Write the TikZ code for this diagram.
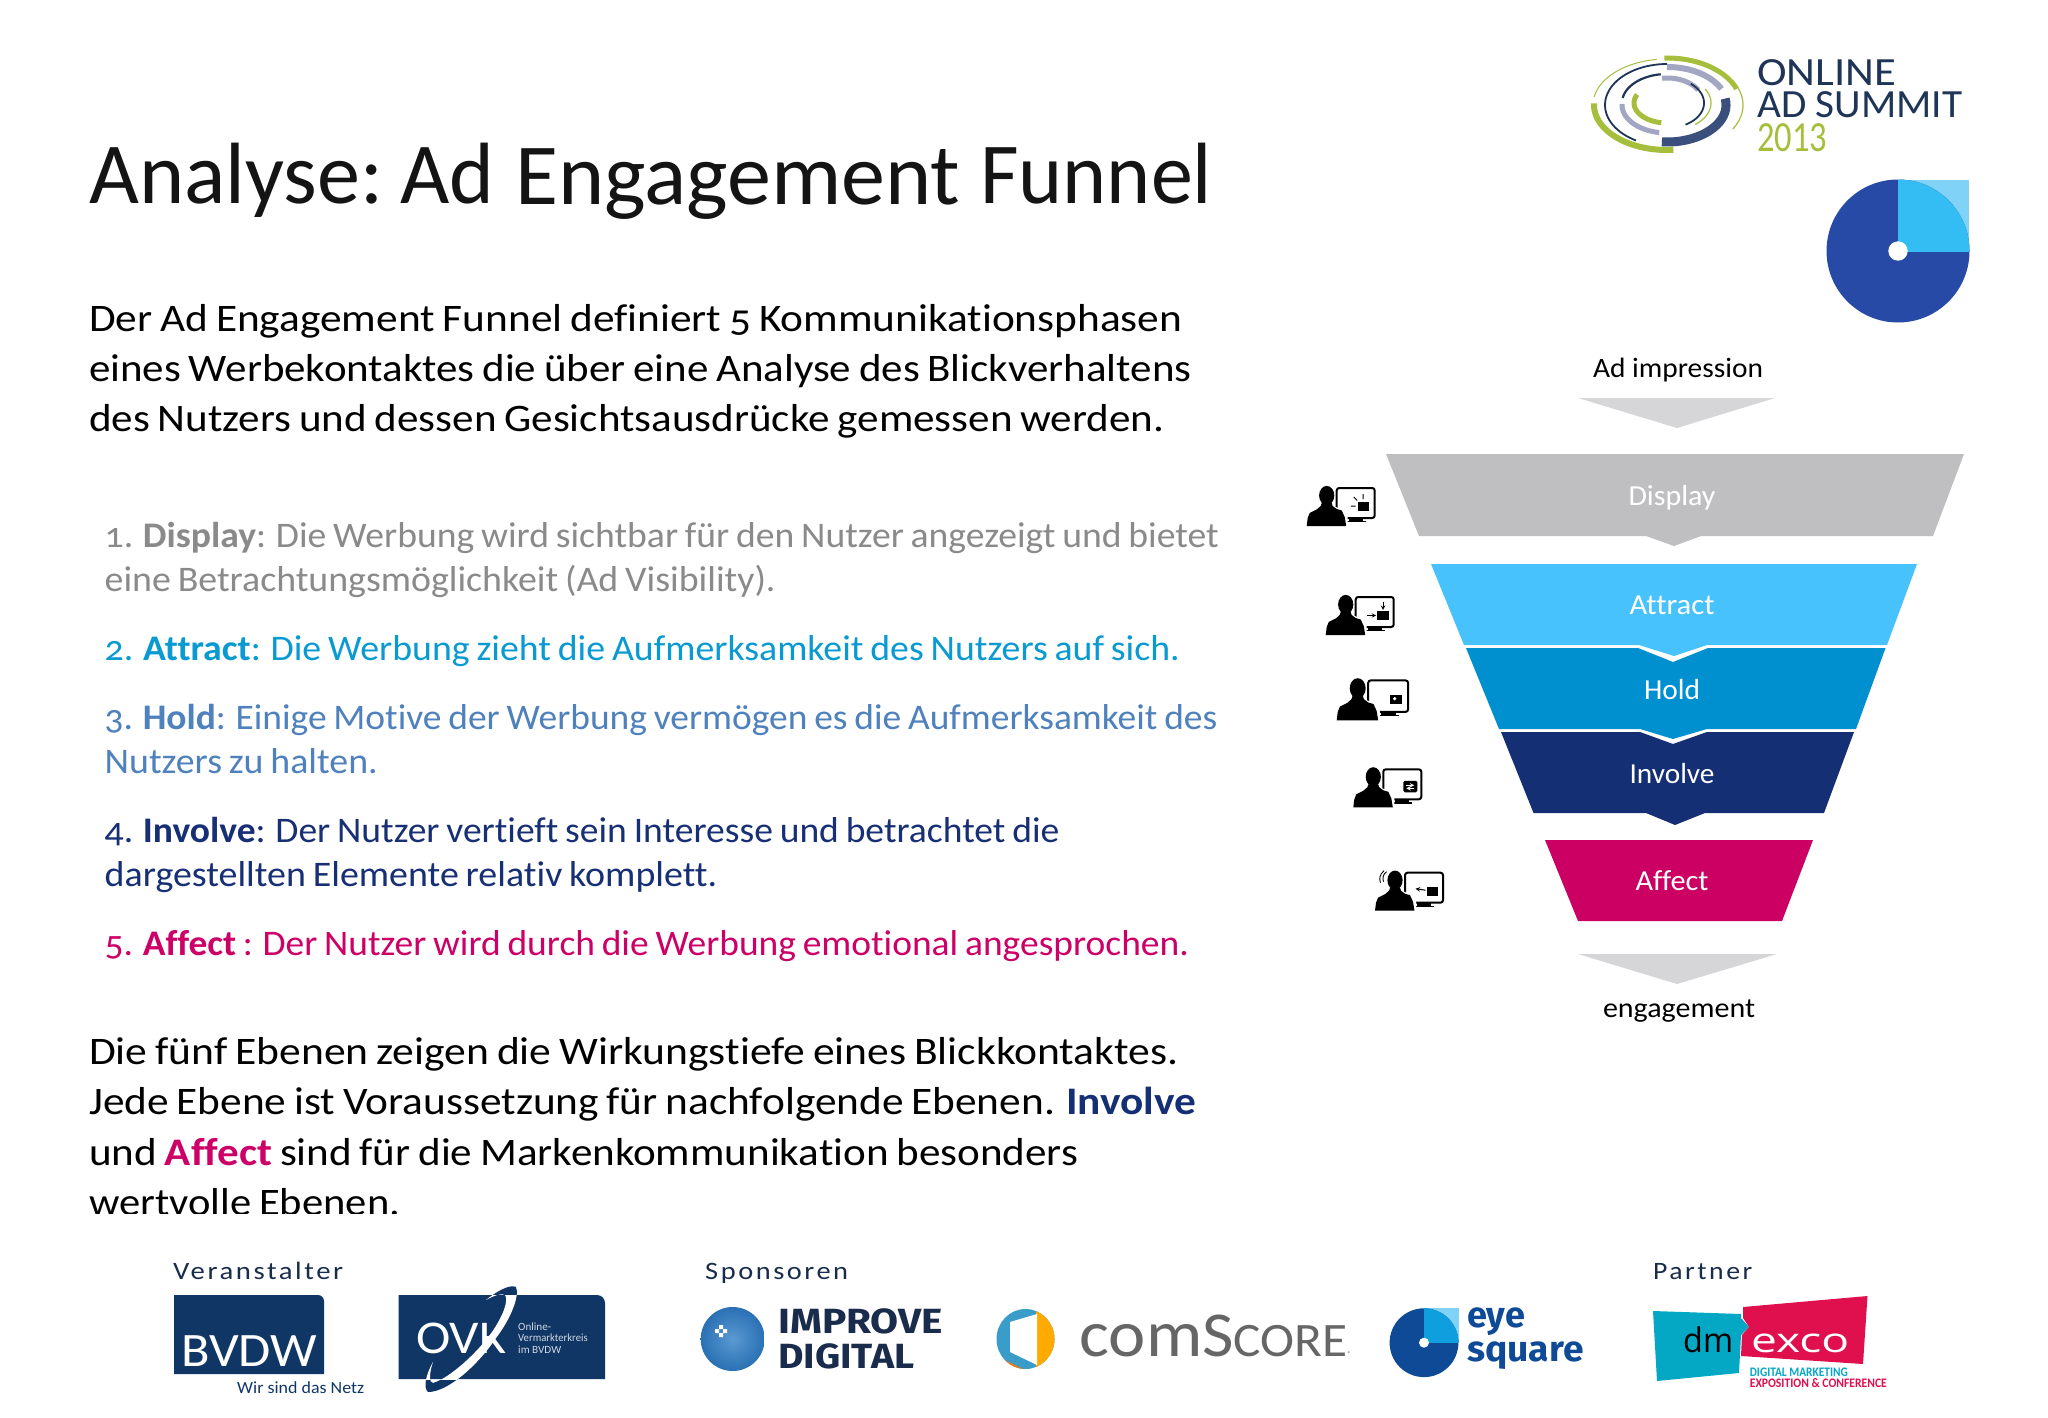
\documentclass[tikz,border=0pt]{standalone}
\usepackage{fontspec}
\usepackage{graphicx}
\setmainfont[Numbers=OldStyle,Ligatures=NoCommon,WordSpace=0.8]{Carlito}
\newfontfamily\lineal[Ligatures=NoCommon]{Carlito}
\newfontfamily\spaced[LetterSpace=9]{Carlito}
\newfontfamily\heavy{Fira Sans}
\newfontfamily\plainsans{Open Sans}
\definecolor{cGrey}{HTML}{8A8A8A}
\definecolor{cAttract}{HTML}{0A9AD2}
\definecolor{cHold}{HTML}{4F81BD}
\definecolor{cInvolve}{HTML}{172F74}
\definecolor{cAffect}{HTML}{CC0066}
\definecolor{fDisplay}{HTML}{BFBEC0}
\definecolor{fAttract}{HTML}{48C2FC}
\definecolor{fHold}{HTML}{0090D0}
\definecolor{fInvolve}{HTML}{142F74}
\definecolor{fAffect}{HTML}{CB0062}
\definecolor{fChev}{HTML}{D6D6D9}
\definecolor{pieDark}{HTML}{264AA5}
\definecolor{pieMid}{HTML}{33BDF2}
\definecolor{pieLight}{HTML}{80D3F7}
\definecolor{navyBox}{HTML}{103666}
\definecolor{logoText}{HTML}{1A2C4C}
\definecolor{sumGreen}{HTML}{A5BF3C}
\definecolor{sumNavy}{HTML}{1E3557}
\definecolor{sumGrey}{HTML}{A2A6C2}
\definecolor{sumBlue}{HTML}{3A4F7C}
\definecolor{esDark}{HTML}{0E4A96}
\definecolor{esMid}{HTML}{109FDE}
\definecolor{dmTeal}{HTML}{05A8C4}
\definecolor{dmPink}{HTML}{E0104F}
\definecolor{csYellow}{HTML}{FFAA00}
\definecolor{csBlue}{HTML}{3A9CC8}
\definecolor{csOrange}{HTML}{F07A12}
\definecolor{impIn}{HTML}{5A9AD2}
\definecolor{impOut}{HTML}{2A70B4}
\newcommand\fl[2]{\resizebox{#1pt}{\height}{#2}}
\newcommand\titleword[3]{\makebox[#1pt][l]{\fl{#2}{#3} }}
\newcommand\earc[7]{\draw[#1,line width=#2pt,line cap=butt] plot[domain=#5:#6,samples=40,smooth] ({1667+#3*cos(\x)},{#7+#4*sin(\x)});}
\newcommand\swooshpath{(486,1300) .. controls (497,1291) and (510,1284) .. (516,1287) .. controls (520,1296) and (510,1320) .. (496,1338) .. controls (478,1365) and (448,1392) .. (428,1392) .. controls (423,1388) and (426,1374) .. (433,1362) .. controls (429,1374) and (429,1383) .. (433,1383) .. controls (450,1378) and (478,1352) .. (492,1332) .. controls (503,1316) and (509,1300) .. (505,1295) .. controls (502,1293) and (495,1295) .. (486,1300) -- cycle}
\tikzset{
  titletext/.style={anchor=base west,inner sep=0,font=\fontsize{87}{87}\selectfont,text=black!92},
  bodytext/.style={anchor=base west,inner sep=0,font=\fontsize{39}{39}\selectfont,text=black},
  listtext/.style={anchor=base west,inner sep=0,font=\fontsize{36}{36}\selectfont},
  flabel/.style={anchor=base,inner sep=0,font=\lineal\fontsize{29}{29}\selectfont,text=white},
  sidelabel/.style={anchor=base,inner sep=0,font=\lineal\fontsize{28}{28}\selectfont,text=black},
  headtext/.style={anchor=base west,inner sep=0,font=\spaced\fontsize{25}{25}\selectfont,text=logoText},
  logotext/.style={anchor=base west,inner sep=0},
  monitor/.style={draw=black,fill=white,line width=2pt,rounded corners=2.5pt},
  personicon/.pic={
    \draw[monitor] (30,-38) rectangle (68,-8);
    \fill[black] (42,-8) rectangle (56,-5);
    \fill[black] (39,-5) rectangle (59,-3.8);
    \fill[white] (-1,1) -- (0,-9) -- (3,-14.5) -- (11,-19) -- (29,-19) -- (37,-16) -- (41,-9) -- (41,1) -- cycle;
    \fill[black] (0,0) -- (1,-8) -- (3,-13) -- (10,-16.5) -- (14,-20) -- (15,-23) -- (25,-23) -- (26,-20) -- (30,-17) -- (35,-15.5) -- (38,-9) -- (39.5,0) -- cycle;
    \fill[black] (20,-30.5) ellipse (7.6 and 9.6);
  }
}
\begin{document}
\begin{tikzpicture}[x=1pt,y=-1pt]
\useasboundingbox (0,0) rectangle (2048,1418);
\fill[white] (0,0) rectangle (2048,1418);

% ---------- title and text
\node[titletext] (title) at (89,204) {\titleword{311}{294}{Analyse:}\titleword{115}{94}{Ad}\titleword{465}{445}{Engagement}\fl{232}{Funnel}};

\node[bodytext] (p1a) at (89,331) {\fl{1093}{Der Ad Engagement Funnel definiert 5 Kommunikationsphasen}};
\node[bodytext] (p1b) at (89,381) {\fl{1102}{eines Werbekontaktes die über eine Analyse des Blickverhaltens}};
\node[bodytext] (p1c) at (89,431) {\fl{1075}{des Nutzers und dessen Gesichtsausdrücke gemessen werden.}};

\node[listtext,text=cGrey] (l1a) at (104.5,547) {\fl{1114}{1. \textbf{Display}: Die Werbung wird sichtbar für den Nutzer angezeigt und bietet}};
\node[listtext,text=cGrey] (l1b) at (104.5,591) {\fl{671}{eine Betrachtungsmöglichkeit (Ad Visibility).}};
\node[listtext,text=cAttract] (l2a) at (104.5,660) {\fl{1075}{2. \textbf{Attract}: Die Werbung zieht die Aufmerksamkeit des Nutzers auf sich.}};
\node[listtext,text=cHold] (l3a) at (104.5,729) {\fl{1112.5}{3. \textbf{Hold}: Einige Motive der Werbung vermögen es die Aufmerksamkeit des}};
\node[listtext,text=cHold] (l3b) at (104.5,773) {\fl{273}{Nutzers zu halten.}};
\node[listtext,text=cInvolve] (l4a) at (104.5,842) {\fl{954.5}{4. \textbf{Involve}: Der Nutzer vertieft sein Interesse und betrachtet die}};
\node[listtext,text=cInvolve] (l4b) at (104.5,886) {\fl{612.5}{dargestellten Elemente relativ komplett.}};
\node[listtext,text=cAffect] (l5a) at (104.5,955) {\fl{1084}{5. \textbf{Affect} : Der Nutzer wird durch die Werbung emotional angesprochen.}};

\begin{scope}
\clip (0,0) rectangle (2048,1213);
\node[bodytext] (p2a) at (89,1064) {\fl{1089}{Die fünf Ebenen zeigen die Wirkungstiefe eines Blickkontaktes.}};
\node[bodytext] (p2b) at (89,1114) {\fl{1107}{Jede Ebene ist Voraussetzung für nachfolgende Ebenen. \textcolor{fInvolve}{\textbf{Involve}}}};
\node[bodytext] (p2c) at (89,1165) {\fl{989}{und \textcolor{cAffect}{\textbf{Affect}} sind für die Markenkommunikation besonders}};
\node[bodytext] (p2d) at (89,1215) {\fl{311}{wertvolle Ebenen.}};
\end{scope}

% ---------- summit logo
\earc{sumGreen}{5}{74}{47}{268}{340}{105}
\earc{sumGreen}{1.2}{76}{48}{-30}{30}{105}
\earc{sumGreen}{6}{73}{45}{85}{182}{105}
\earc{sumGreen}{1}{74}{46}{190}{262}{105}
\earc{sumNavy}{1.8}{62}{41}{120}{270}{105}
\earc{sumGrey}{6}{60}{38}{270}{335}{105}
\earc{sumBlue}{9}{59}{37}{-10}{95}{105}
\earc{sumGrey}{5}{45}{28}{100}{182}{105}
\earc{sumNavy}{2.2}{45}{29}{190}{262}{103}
\earc{sumGrey}{5}{36}{24}{262}{330}{102}
\earc{sumNavy}{1.8}{37}{25}{-50}{60}{103}
\earc{sumGreen}{5}{33}{20}{100}{205}{103}
\earc{sumGreen}{1.2}{44}{28}{-30}{50}{103}
\node[logotext,text=sumNavy] (sumA) at (1757,86) {\fl{139}{\lineal\fontsize{40}{40}\selectfont ONLINE}};
\node[logotext,text=sumNavy] (sumB) at (1757,118) {\fl{205}{\lineal\fontsize{40}{40}\selectfont AD SUMMIT}};
\node[logotext,text=sumGreen] (sumC) at (1757,151) {\fl{70}{\lineal\fontsize{43}{43}\selectfont 2013}};

% ---------- pie
\fill[pieLight] (1898,180) rectangle (1969,251);
\fill[pieDark] (1898,251) circle (71.5);
\begin{scope}
  \clip (1898,175) rectangle (1975,251);
  \fill[pieMid] (1898,251) circle (71.5);
\end{scope}
\fill[white] (1898,251) circle (9.7);

% ---------- funnel
\node[sidelabel] (adimp) at (1678,377) {\fl{170}{Ad impression}};
\fill[fChev] (1578,398) -- (1775,398) -- (1677,428) -- cycle;
\fill[fDisplay] (1386,454) -- (1964,454) -- (1933,536) -- (1701,536) -- (1674,546) -- (1646,536) -- (1419,536) -- cycle;
\fill[fAttract] (1431,564) -- (1917,564) -- (1887,645) -- (1707,645) -- (1674,656) -- (1639,645) -- (1464,645) -- cycle;
\fill[fHold] (1466,648) -- (1638,648) -- (1673,662) -- (1708,648) -- (1885.5,648) -- (1856,729) -- (1707,729) -- (1673,739) -- (1640,729) -- (1499,729) -- cycle;
\fill[fInvolve] (1501,732) -- (1640,732) -- (1673,744) -- (1707,732) -- (1854,732) -- (1824,813) -- (1705,813) -- (1675,825) -- (1646,813) -- (1533.5,813) -- cycle;
\fill[fAffect] (1545,840) -- (1813,840) -- (1782,921) -- (1578,921) -- cycle;
\fill[fChev] (1578,954) -- (1777,954) -- (1677,984) -- cycle;
\node[sidelabel] (eng) at (1679,1017) {\fl{152}{engagement}};
\node[flabel] (fD) at (1672,505) {\fl{87}{Display}};
\node[flabel] (fA) at (1672,614) {\fl{85}{Attract}};
\node[flabel] (fH) at (1672,699) {\fl{56}{Hold}};
\node[flabel] (fI) at (1672,783) {\fl{85}{Involve}};
\node[flabel] (fF) at (1672,890) {\fl{73}{Affect}};

% ---------- person icons
\pic at (1306.7,526) {personicon};
\begin{scope}[shift={(1306.7,526)}]
  \fill[black] (51.7,-24.3) rectangle (62.7,-15.3);
  \draw[black,line width=1pt] (56.5,-32) -- (56.5,-27) (47,-29) -- (50.5,-25.5) (44.5,-20) -- (49,-20);
\end{scope}
\pic at (1325.7,635) {personicon};
\begin{scope}[shift={(1325.7,635)}]
  \fill[black] (51.7,-24) rectangle (63,-15);
  \draw[black,line width=1pt,-stealth] (57.3,-33.5) -- (57.3,-25);
  \draw[black,line width=1pt,-stealth] (41.5,-19.5) -- (50.5,-19.5);
\end{scope}
\pic[scale=1.05] at (1336.7,720.3) {personicon};
\begin{scope}[shift={(1336.7,720.3)}]
  \fill[black] (53.7,-25.3) rectangle (65.7,-16);
  \fill[white] (58,-21.6) circle (1.8);
\end{scope}
\pic at (1353.3,807.3) {personicon};
\begin{scope}[shift={(1353.3,807.3)}]
  \fill[black,rounded corners=1.5pt] (50,-26.5) rectangle (64,-15);
  \draw[white,line width=1pt,-stealth] (53,-22) -- (61,-22);
  \draw[white,line width=1pt,-stealth] (61,-19) -- (53,-19);
\end{scope}
\pic at (1375,910.7) {personicon};
\begin{scope}[shift={(1375,910.7)}]
  \fill[black] (51.7,-23.5) rectangle (63.3,-15);
  \draw[black,line width=1pt,-stealth] (50.5,-20.5) -- (40.5,-22);
  \draw[black,line width=.9pt] (9,-40) .. controls (4.5,-36) and (4,-32) .. (5.5,-28);
  \draw[black,line width=.9pt] (11.5,-39) .. controls (7.5,-36) and (7.5,-32) .. (8.5,-29);
\end{scope}

% ---------- footer headings
\node[headtext] (hV) at (173,1279) {\fl{170}{Veranstalter}};
\node[headtext] (hS) at (705,1279) {\fl{143}{Sponsoren}};
\node[headtext] (hP) at (1653,1279) {\fl{99}{Partner}};

% ---------- BVDW
\fill[navyBox] (174,1374) -- (174,1295) [rounded corners=6pt] -- (324,1295) [sharp corners] -- (324,1374) -- cycle;
\node[logotext,text=white] (bvdw) at (181,1366) {\fl{136}{\lineal\fontsize{48}{48}\selectfont BVDW}};
\node[logotext,text=navyBox] (bvdwS) at (237,1393) {\fl{127}{\lineal\fontsize{17}{17}\selectfont Wir sind das Netz}};

% ---------- OVK
\fill[navyBox] (398.5,1379) -- (398.5,1295) [rounded corners=8pt] -- (605,1295) [sharp corners] -- (605,1379) -- cycle;
\fill[navyBox] \swooshpath;
\begin{scope}
  \clip (398.5,1295) rectangle (605,1379);
  \fill[white] \swooshpath;
\end{scope}
\node[logotext,text=white] (ovk) at (416,1353) {\fl{90}{\lineal\fontsize{47}{47}\selectfont OVK}};
\node[logotext,text=white!80!navyBox] (ovkA) at (518,1330) {\fl{33}{\lineal\fontsize{11}{11}\selectfont Online-}};
\node[logotext,text=white!80!navyBox] (ovkB) at (518,1341.7) {\fl{69.5}{\lineal\fontsize{11}{11}\selectfont Vermarkterkreis}};
\node[logotext,text=white!80!navyBox] (ovkC) at (518,1353) {\fl{43}{\lineal\fontsize{11}{11}\selectfont im BVDW}};

% ---------- Improve Digital
\shade[inner color=impIn,outer color=impOut] (732.7,1339) circle (32);
\fill[white] (719,1325) rectangle (723,1329) (715,1329) rectangle (719,1333) (723,1329) rectangle (727,1333) (719,1333) rectangle (723,1337);
\node[logotext,text=logoText] (impA) at (778,1333) {\fl{165}{\heavy\bfseries\fontsize{35}{35}\selectfont IMPROVE}};
\node[logotext,text=logoText] (impB) at (778,1368) {\fl{136}{\heavy\bfseries\fontsize{35}{35}\selectfont DIGITAL}};

% ---------- comScore
\fill[csBlue] (1025.5,1339) ellipse (29 and 30);
\begin{scope}
  \clip (1036,1300) rectangle (1060,1375);
  \fill[csYellow] (1025.5,1339) ellipse (29 and 30);
\end{scope}
\begin{scope}
  \clip (990,1353) -- (1036,1375) -- (990,1380) -- cycle;
  \fill[csOrange] (1025.5,1339) ellipse (29 and 30);
\end{scope}
\fill[white] (1010,1322) -- (1037,1314) -- (1037,1365) -- (1010,1352) -- cycle;
\node[logotext,text=black!60] (cs) at (1079.5,1356) {\fl{268}{\lineal\fontsize{66}{66}\selectfont com{\fontsize{64}{64}\selectfont S}{\fontsize{48}{48}\selectfont CORE}}};
\node[logotext,text=black!60] (csR) at (1347.5,1356) {\lineal\fontsize{7}{7}\selectfont ®};

% ---------- eye square
\fill[pieLight] (1424,1308) rectangle (1459,1343);
\fill[esDark] (1424,1342.7) circle (34.4);
\begin{scope}
  \clip (1424,1300) rectangle (1465,1342.7);
  \fill[esMid] (1424,1342.7) circle (34.4);
\end{scope}
\fill[white] (1424,1342.7) circle (5);
\node[logotext,text=esDark] (esA) at (1467,1327) {\fl{58}{\heavy\bfseries\fontsize{36}{36}\selectfont eye}};
\node[logotext,text=esDark] (esB) at (1467,1361.7) {\fl{116.5}{\heavy\bfseries\fontsize{36}{36}\selectfont square}};

% ---------- dmexco
\fill[dmTeal] (1653,1311) -- (1741,1314) -- (1741,1318) -- (1749,1327) -- (1741,1335) -- (1739,1373) -- (1657,1381) -- cycle;
\fill[dmPink] (1743,1307) -- (1867.5,1296) -- (1863,1364) -- (1741,1356) -- (1742,1335) -- (1749,1327) -- (1743,1318) -- cycle;
\node[logotext,text=black] (dm) at (1683,1352) {\fl{50}{\plainsans\fontsize{34}{34}\selectfont dm}};
\node[logotext,text=white] (exco) at (1751,1352) {\fl{98}{\plainsans\fontsize{34}{34}\selectfont exco}};
\node[logotext,text=dmTeal] (dmA) at (1749.6,1376.7) {\fl{98}{\lineal\bfseries\fontsize{13}{13}\selectfont DIGITAL MARKETING}};
\node[logotext,text=dmPink] (dmB) at (1749.6,1387.7) {\fl{137}{\lineal\bfseries\fontsize{13}{13}\selectfont EXPOSITION \& CONFERENCE}};
\end{tikzpicture}
\end{document}
